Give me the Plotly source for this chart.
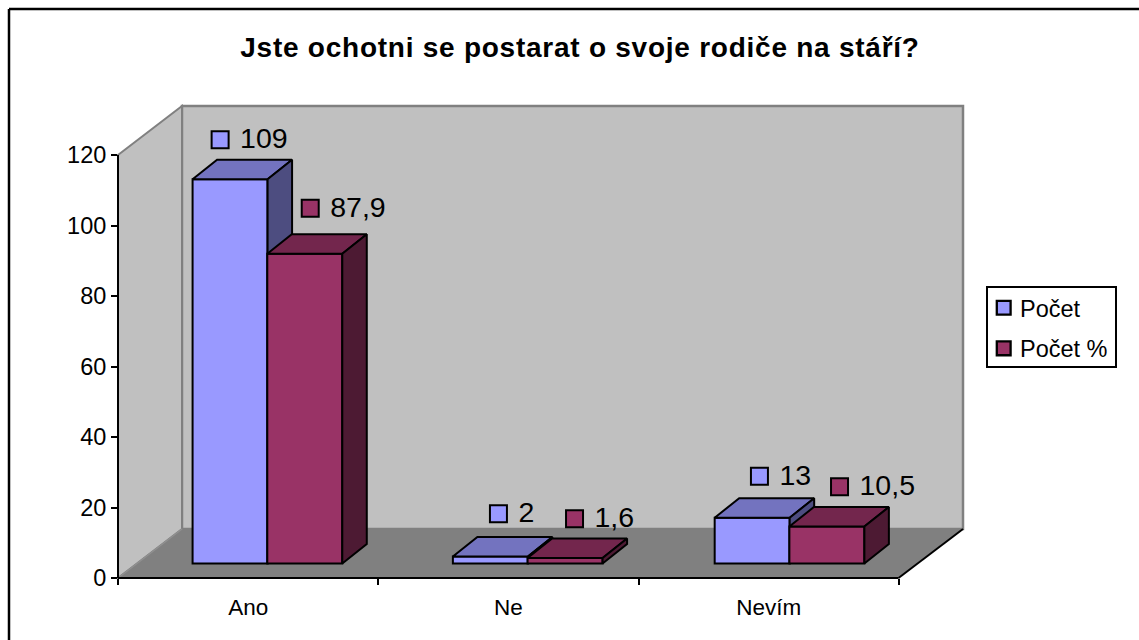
import plotly.graph_objects as go

categories = ["Ano", "Ne", "Nevím"]
series_names = ["Počet", "Počet %"]
pocet = [109, 2, 13]
pocet_pct = [87.9, 1.6, 10.5]
y_ticks = [0, 20, 40, 60, 80, 100, 120]

COL_FRONT = ["#9999FF", "#993366"]
COL_TOP = ["#7373BF", "#73264D"]
COL_SIDE = ["#4D4D80", "#4D1A33"]

W, H = 1139, 640
L, R, T, B = 118, 963, 105, 578          # plot rectangle in pixels
PX_PER_CAT = 260.3
PX_PER_VAL = 3.525
XMAX = (R - L) / PX_PER_CAT
YMAX = (B - T) / PX_PER_VAL

DEPTH_X = 24.5 / PX_PER_CAT
DEPTH_Y = 19.5 / PX_PER_VAL
BASE = 4.1
BAR_W = 75 / PX_PER_CAT
OFFSETS = [-0.2135, 0.0735]
CAT_NUDGE = [0, 0, 1.5 / PX_PER_CAT]

# label placement (key square centre relative to the category start, lift above the value)
KEY_DX = [[102 / 260, 120 / 260, 120.7 / 260], [192 / 260, 196 / 260, 200.7 / 260]]
KEY_DY = [[15.3, 16.2, 15.9], [17.0, 15.2, 15.4]]
TEXT_GAP = 20 / PX_PER_CAT
TEXT_DROP = 0.4


def fx(px):
    return (px - L) / (R - L)


def fy(py):
    return (B - py) / (B - T)


def poly(points, fill, line=None, width=2, layer="below"):
    path = "M" + " L".join(f"{fx(x):.5f},{fy(y):.5f}" for x, y in points) + " Z"
    return dict(type="path", xref="paper", yref="paper", path=path, fillcolor=fill,
                line=dict(color=line or fill, width=width), layer=layer)


def seg(x0, y0, x1, y1, color, width=2, layer="below"):
    return dict(type="line", xref="paper", yref="paper", x0=fx(x0), y0=fy(y0), x1=fx(x1), y1=fy(y1),
                line=dict(color=color, width=width), layer=layer)


shapes = [
    poly([(182, T + 1), (R, T + 1), (R, 529), (182, 529)], "#C0C0C0", "#808080", 2.5),
    poly([(L, 155), (182, T + 1), (182, 529), (L, B)], "#C0C0C0", "#808080", 2),
    poly([(L, B), (182, 529), (R, 529), (898, B)], "#808080", "#808080", 1),
    seg(L, B, 182, 529, "#909090", 1.5),
    seg(898.5, B, R, 529, "#000000", 2),
    seg(L, B, 898.5, B, "#000000", 2),
    seg(L, 155, L, B, "#000000", 2),
    seg(9, 9, W, 9, "#000000", 2.5),
    seg(9, 9, 9, H, "#000000", 2.5),
    dict(type="rect", xref="paper", yref="paper", x0=fx(987), y0=fy(287), x1=fx(1116), y1=fy(367),
         line=dict(color="#000000", width=2), fillcolor="#FFFFFF", layer="below"),
]

fig = go.Figure()
all_series = [pocet, pocet_pct]
axes = ["y", "y2"]
for s, values in enumerate(all_series):
    xc = [i + 0.5 + CAT_NUDGE[i] for i in range(len(categories))]
    fig.add_trace(go.Bar(x=xc, y=values, base=[BASE] * len(values), width=[BAR_W] * len(values),
                         offset=[OFFSETS[s]] * len(values), name=series_names[s], yaxis=axes[s],
                         legendgroup=series_names[s], hoverinfo="skip",
                         marker=dict(color=COL_FRONT[s], line=dict(color="#000000", width=2))))
    for i, v in enumerate(values):
        x0 = xc[i] + OFFSETS[s]
        x1 = x0 + BAR_W
        y1 = BASE + v
        fig.add_trace(go.Scatter(
            x=[x0, x0 + DEPTH_X, x1 + DEPTH_X, x1, x0], y=[y1, y1 + DEPTH_Y, y1 + DEPTH_Y, y1, y1],
            mode="lines", fill="toself", fillcolor=COL_TOP[s], line=dict(color="#000000", width=2),
            yaxis=axes[s], showlegend=False, hoverinfo="skip"))
        fig.add_trace(go.Scatter(
            x=[x1, x1 + DEPTH_X, x1 + DEPTH_X, x1, x1],
            y=[y1, y1 + DEPTH_Y, BASE + DEPTH_Y, BASE, y1],
            mode="lines", fill="toself", fillcolor=COL_SIDE[s], line=dict(color="#000000", width=2),
            yaxis=axes[s], showlegend=False, hoverinfo="skip"))

for s, values in enumerate(all_series):
    key_x = [i + KEY_DX[s][i] for i in range(len(values))]
    key_y = [v + KEY_DY[s][i] for i, v in enumerate(values)]
    fig.add_trace(go.Scatter(
        x=key_x, y=key_y, mode="markers",
        marker=dict(symbol="square", size=17, color=COL_FRONT[s], line=dict(color="#000000", width=2)),
        yaxis="y2", showlegend=False, hoverinfo="skip", cliponaxis=False))
    fig.add_trace(go.Scatter(
        x=[k + TEXT_GAP for k in key_x], y=[k - TEXT_DROP for k in key_y],
        mode="text", text=[str(v).replace(".", ",") for v in values],
        textposition="middle right", textfont=dict(size=28.5, color="#000000"),
        yaxis="y2", showlegend=False, hoverinfo="skip", cliponaxis=False))

FONT = "Liberation Sans, Arial, sans-serif"
fig.update_layout(
    width=W, height=H, autosize=False,
    margin=dict(l=L, r=W - R, t=T, b=H - B, pad=0, autoexpand=False),
    paper_bgcolor="#FFFFFF", plot_bgcolor="rgba(0,0,0,0)",
    font=dict(family=FONT, size=22.5, color="#000000"),
    title=dict(text="<b>Jste ochotni se postarat o svoje rodiče na stáří?</b>", x=580 / W, xanchor="center",
               y=1 - 47 / H, yanchor="middle", font=dict(size=28, family=FONT, color="#000000")),
    barmode="overlay", shapes=shapes,
    xaxis=dict(range=[0, XMAX], tickmode="array", tickvals=[i + 0.5 for i in range(len(categories))],
               ticktext=categories, ticks="", showgrid=False, zeroline=False, showline=False,
               ticklabelstandoff=13, tickfont=dict(size=22.5),
               minor=dict(tickmode="array", tickvals=list(range(len(categories) + 1)), ticks="outside",
                          ticklen=6, tickwidth=2, tickcolor="#000000", showgrid=False)),
    yaxis=dict(range=[0, YMAX], tickmode="array", tickvals=y_ticks, ticks="outside", ticklen=6, tickwidth=2,
               tickcolor="#000000", showgrid=False, zeroline=False, showline=False, tickfont=dict(size=23.5)),
    yaxis2=dict(range=[0, YMAX], overlaying="y", visible=False),
    legend=dict(x=fx(980), y=fy(286), xanchor="left", yanchor="top", borderwidth=0,
                bgcolor="rgba(0,0,0,0)", font=dict(size=23.5), traceorder="grouped", tracegroupgap=7),
    showlegend=True,
)

post = """
document.body.style.margin='0';document.documentElement.style.overflow='hidden';
document.querySelectorAll('.gtitle').forEach(function(t){t.style.letterSpacing='0.75px';});
document.querySelectorAll('.legendpoints path').forEach(function(p){
  p.setAttribute('transform',(p.getAttribute('transform')||'')+' translate(3.7,0) scale(1.15)');});
"""
fig.write_html("out.html", post_script=post, config={"displayModeBar": False})
